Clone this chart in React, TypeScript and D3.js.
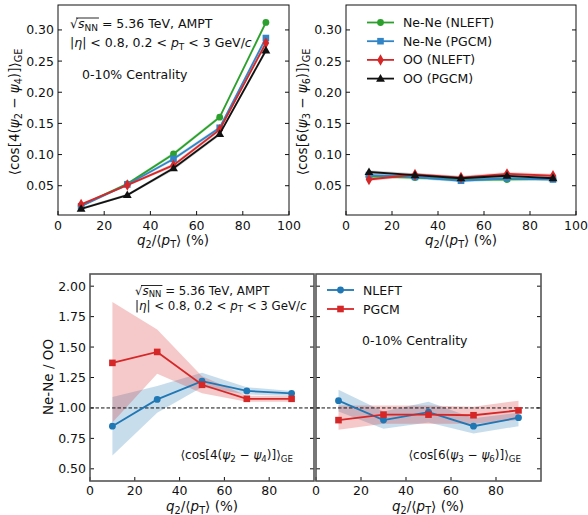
import React, { useRef, useEffect } from 'react';
import * as d3 from 'd3';

// q2/<pT> bins (%)
const qBins = [10, 30, 50, 70, 90];

// <cos[4(psi2 - psi4)]>_GE
const cos4NeNeNleft = [0.018, 0.053, 0.101, 0.160, 0.312];
const cos4NeNePgcm = [0.017, 0.052, 0.093, 0.143, 0.287];
const cos4OONleft = [0.020, 0.051, 0.083, 0.140, 0.279];
const cos4OOPgcm = [0.013, 0.035, 0.078, 0.133, 0.267];
const cos4Err = [0.002, 0.002, 0.003, 0.003, 0.004];

// <cos[6(psi3 - psi6)]>_GE
const cos6NeNeNleft = [0.065, 0.063, 0.060, 0.060, 0.061];
const cos6NeNePgcm = [0.067, 0.064, 0.058, 0.062, 0.060];
const cos6OONleft = [0.060, 0.068, 0.063, 0.069, 0.066];
const cos6OOPgcm = [0.072, 0.067, 0.062, 0.066, 0.062];
const cos6Err = [0.003, 0.003, 0.003, 0.003, 0.003];

// Ne-Ne / OO ratios
const ratio4Nleft = [0.85, 1.07, 1.22, 1.14, 1.12];
const ratio4NleftLo = [0.61, 0.96, 1.17, 1.11, 1.10];
const ratio4NleftHi = [1.09, 1.18, 1.29, 1.17, 1.14];
const ratio4Pgcm = [1.37, 1.46, 1.19, 1.075, 1.075];
const ratio4PgcmLo = [0.88, 1.28, 1.12, 1.05, 1.05];
const ratio4PgcmHi = [1.87, 1.645, 1.26, 1.10, 1.10];

const ratio6Nleft = [1.06, 0.90, 0.965, 0.85, 0.92];
const ratio6NleftLo = [0.97, 0.83, 0.88, 0.79, 0.85];
const ratio6NleftHi = [1.15, 0.97, 1.05, 0.915, 0.96];
const ratio6Pgcm = [0.90, 0.945, 0.945, 0.94, 0.98];
const ratio6PgcmLo = [0.82, 0.87, 0.87, 0.87, 0.90];
const ratio6PgcmHi = [1.02, 1.02, 1.02, 1.01, 1.06];

const topTicksY = [0.05, 0.10, 0.15, 0.20, 0.25, 0.30];
const topTicksX = [0, 20, 40, 60, 80, 100];
const botTicksY = [0.50, 0.75, 1.00, 1.25, 1.50, 1.75, 2.00];
const botTicksX = [0, 20, 40, 60, 80];

const GREEN = '#2ca02c';
const BLUE = '#3185c6';
const RED = '#d62728';
const BLACK = '#111111';
const FONT = 'DejaVu Sans, sans-serif';

type Seg = { t: string; i?: boolean; sub?: boolean; over?: boolean };

const qLabel: Seg[] = [
  { t: 'q', i: true }, { t: '2', sub: true }, { t: '/⟨' }, { t: 'p', i: true },
  { t: 'T', sub: true }, { t: '⟩ (%)' },
];
const sqrtLine: Seg[] = [
  { t: '√', over: true }, { t: 's', i: true, over: true }, { t: 'NN', sub: true, over: true },
  { t: ' = 5.36 TeV, AMPT' },
];
const etaLine: Seg[] = [
  { t: '|' }, { t: 'η', i: true }, { t: '| < 0.8, 0.2 < ' }, { t: 'p', i: true },
  { t: 'T', sub: true }, { t: ' < 3 GeV/' }, { t: 'c', i: true },
];
const cos4Label: Seg[] = [
  { t: '⟨cos[4(' }, { t: 'ψ', i: true }, { t: '2', sub: true }, { t: ' − ' },
  { t: 'ψ', i: true }, { t: '4', sub: true }, { t: ')]⟩' }, { t: 'GE', sub: true },
];
const cos6Label: Seg[] = [
  { t: '⟨cos[6(' }, { t: 'ψ', i: true }, { t: '3', sub: true }, { t: ' − ' },
  { t: 'ψ', i: true }, { t: '6', sub: true }, { t: ')]⟩' }, { t: 'GE', sub: true },
];

function rich(g: any, segs: Seg[], x: number, y: number, size: number, anchor = 'start', rotate = false) {
  const text = g.append('text')
    .attr('x', x).attr('y', y)
    .attr('font-size', size)
    .attr('font-family', FONT)
    .attr('text-anchor', anchor)
    .attr('fill', '#111');
  if (rotate) text.attr('transform', `rotate(-90, ${x}, ${y})`);
  let shifted = false;
  const overNodes: any[] = [];
  segs.forEach(s => {
    const ts = text.append('tspan').text(s.t);
    if (s.i) ts.attr('font-style', 'italic');
    if (s.sub) {
      ts.attr('font-size', size * 0.72);
      if (!shifted) { ts.attr('dy', size * 0.25); shifted = true; }
    } else if (shifted) {
      ts.attr('dy', -size * 0.25); shifted = false;
    }
    if (s.over) overNodes.push(ts.node());
  });
  if (overNodes.length) {
    const b0 = overNodes[0].getBBox();
    const bl = overNodes[overNodes.length - 1].getBBox();
    g.append('line')
      .attr('x1', b0.x + b0.width * 0.75).attr('x2', bl.x + bl.width + 1)
      .attr('y1', b0.y + 2).attr('y2', b0.y + 2)
      .attr('stroke', '#111').attr('stroke-width', 0.9);
  }
  return text;
}

function marker(g: any, shape: string, x: number, y: number, color: string) {
  if (shape === 'circle') {
    g.append('circle').attr('cx', x).attr('cy', y).attr('r', 3.4).attr('fill', color);
  } else if (shape === 'square') {
    g.append('rect').attr('x', x - 3.3).attr('y', y - 3.3).attr('width', 6.6).attr('height', 6.6).attr('fill', color);
  } else if (shape === 'diamond') {
    g.append('path').attr('d', d3.symbol(d3.symbolDiamond, 38)()).attr('transform', `translate(${x},${y})`).attr('fill', color);
  } else {
    g.append('path').attr('d', d3.symbol(d3.symbolTriangle, 34)()).attr('transform', `translate(${x},${y + 0.5})`).attr('fill', color);
  }
}

type Series = { y: number[]; lo: number[]; hi: number[]; color: string; shape: string; label: string };

function drawPanel(svg: any, opts: {
  x0: number; x1: number; y0: number; y1: number;
  xDomain: [number, number]; yDomain: [number, number];
  xTicks: number[]; yTicks: number[]; yFmt: (d: number) => string;
  showYLabels: boolean; series: Series[]; frameColor: string; frameWidth: number;
  bandOpacity: number; dashed?: boolean; xTickOffset: number;
}) {
  const xs = d3.scaleLinear().domain(opts.xDomain).range([opts.x0, opts.x1]);
  const ys = d3.scaleLinear().domain(opts.yDomain).range([opts.y1, opts.y0]);
  const g = svg.append('g');
  const clipId = `clip${Math.round(opts.x0)}_${Math.round(opts.y0)}`;
  g.append('clipPath').attr('id', clipId).append('rect')
    .attr('x', opts.x0).attr('y', opts.y0).attr('width', opts.x1 - opts.x0).attr('height', opts.y1 - opts.y0);
  const plot = g.append('g').attr('clip-path', `url(#${clipId})`);

  opts.series.forEach(s => {
    const area = d3.area<number>()
      .x((_, i) => xs(qBins[i]))
      .y0((_, i) => ys(s.lo[i]))
      .y1((_, i) => ys(s.hi[i]));
    plot.append('path').attr('d', area(s.y)).attr('fill', s.color).attr('opacity', opts.bandOpacity);
  });
  if (opts.dashed) {
    plot.append('line').attr('x1', opts.x0).attr('x2', opts.x1)
      .attr('y1', ys(1)).attr('y2', ys(1))
      .attr('stroke', '#111').attr('stroke-width', 1).attr('stroke-dasharray', '3.5,2');
  }
  opts.series.forEach(s => {
    const line = d3.line<number>().x((_, i) => xs(qBins[i])).y(d => ys(d));
    plot.append('path').attr('d', line(s.y)).attr('fill', 'none').attr('stroke', s.color).attr('stroke-width', 1.8);
    s.y.forEach((v, i) => marker(plot, s.shape, xs(qBins[i]), ys(v), s.color));
  });

  // ticks (inward) and labels
  const tl = 4;
  opts.yTicks.forEach(t => {
    const y = ys(t);
    g.append('line').attr('x1', opts.x0).attr('x2', opts.x0 + tl).attr('y1', y).attr('y2', y).attr('stroke', '#111');
    g.append('line').attr('x1', opts.x1).attr('x2', opts.x1 - tl).attr('y1', y).attr('y2', y).attr('stroke', '#111');
    if (opts.showYLabels) {
      g.append('text').attr('x', opts.x0 - 4).attr('y', y + 4.5).attr('text-anchor', 'end')
        .attr('font-size', 12.5).attr('font-family', FONT).attr('fill', '#111').text(opts.yFmt(t));
    }
  });
  opts.xTicks.forEach(t => {
    const x = xs(t);
    g.append('line').attr('x1', x).attr('x2', x).attr('y1', opts.y1).attr('y2', opts.y1 - tl).attr('stroke', '#111');
    g.append('text').attr('x', x).attr('y', opts.y1 + opts.xTickOffset).attr('text-anchor', 'middle')
      .attr('font-size', 12.5).attr('font-family', FONT).attr('fill', '#111').text(String(t));
  });
  g.append('rect').attr('x', opts.x0).attr('y', opts.y0).attr('width', opts.x1 - opts.x0).attr('height', opts.y1 - opts.y0)
    .attr('fill', 'none').attr('stroke', opts.frameColor).attr('stroke-width', opts.frameWidth);
  return g;
}

function legend(svg: any, items: Series[], x: number, y: number, dy: number) {
  items.forEach((s, i) => {
    const yy = y + i * dy;
    svg.append('line').attr('x1', x).attr('x2', x + 27).attr('y1', yy).attr('y2', yy)
      .attr('stroke', s.color).attr('stroke-width', 1.8);
    marker(svg, s.shape, x + 13.5, yy, s.color);
    svg.append('text').attr('x', x + 36).attr('y', yy + 4.5).attr('font-size', 12.5)
      .attr('font-family', FONT).attr('fill', '#111').text(s.label);
  });
}

const band = (v: number[], e: number[], sign: number) => v.map((d, i) => d + sign * e[i]);

const App = () => {
  const svgRef = useRef<SVGSVGElement>(null);

  useEffect(() => {
    const svg = d3.select(svgRef.current);
    svg.selectAll('*').remove();
    svg.append('rect').attr('width', 588).attr('height', 515).attr('fill', '#fff');

    const mk = (y: number[], e: number[], color: string, shape: string, label: string): Series =>
      ({ y, lo: band(y, e, -1), hi: band(y, e, 1), color, shape, label });

    const top4 = [
      mk(cos4NeNeNleft, cos4Err, GREEN, 'circle', 'Ne-Ne (NLEFT)'),
      mk(cos4NeNePgcm, cos4Err, BLUE, 'square', 'Ne-Ne (PGCM)'),
      mk(cos4OONleft, cos4Err, RED, 'diamond', 'OO (NLEFT)'),
      mk(cos4OOPgcm, cos4Err, BLACK, 'triangle', 'OO (PGCM)'),
    ];
    const top6 = [
      mk(cos6NeNeNleft, cos6Err, GREEN, 'circle', 'Ne-Ne (NLEFT)'),
      mk(cos6NeNePgcm, cos6Err, BLUE, 'square', 'Ne-Ne (PGCM)'),
      mk(cos6OONleft, cos6Err, RED, 'diamond', 'OO (NLEFT)'),
      mk(cos6OOPgcm, cos6Err, BLACK, 'triangle', 'OO (PGCM)'),
    ];
    const fmt2 = (d: number) => d.toFixed(2);
    const topCommon = {
      y0: 5, y1: 215, xDomain: [0, 100] as [number, number], yDomain: [0.003, 0.340] as [number, number],
      xTicks: topTicksX, yTicks: topTicksY, yFmt: fmt2, showYLabels: true,
      frameColor: '#111', frameWidth: 1, bandOpacity: 0.2, xTickOffset: 15,
    };
    drawPanel(svg, { ...topCommon, x0: 58, x1: 289, series: top4 });
    drawPanel(svg, { ...topCommon, x0: 346, x1: 576, series: top6 });

    const botCommon = {
      y0: 274, y1: 481, xDomain: [0, 100] as [number, number], yDomain: [0.40, 2.10] as [number, number],
      xTicks: botTicksX, yTicks: botTicksY, yFmt: fmt2,
      frameColor: '#555', frameWidth: 1.6, bandOpacity: 0.25, dashed: true, xTickOffset: 13.5,
    };
    const nl4 = { y: ratio4Nleft, lo: ratio4NleftLo, hi: ratio4NleftHi, color: '#1f77b4', shape: 'circle', label: 'NLEFT' };
    const pg4 = { y: ratio4Pgcm, lo: ratio4PgcmLo, hi: ratio4PgcmHi, color: RED, shape: 'square', label: 'PGCM' };
    const nl6 = { y: ratio6Nleft, lo: ratio6NleftLo, hi: ratio6NleftHi, color: '#1f77b4', shape: 'circle', label: 'NLEFT' };
    const pg6 = { y: ratio6Pgcm, lo: ratio6PgcmLo, hi: ratio6PgcmHi, color: RED, shape: 'square', label: 'PGCM' };
    drawPanel(svg, { ...botCommon, x0: 90, x1: 314, showYLabels: true, series: [nl4, pg4] });
    drawPanel(svg, { ...botCommon, x0: 316, x1: 541, showYLabels: false, series: [nl6, pg6] });

    // axis labels
    rich(svg, qLabel, 173, 245, 13.5, 'middle');
    rich(svg, qLabel, 461, 245, 13.5, 'middle');
    rich(svg, qLabel, 202, 510.5, 13.5, 'middle');
    rich(svg, qLabel, 428, 510.5, 13.5, 'middle');
    rich(svg, cos4Label, 19, 112, 13.5, 'middle', true);
    rich(svg, cos6Label, 307, 112, 13.5, 'middle', true);
    svg.append('text').attr('x', 53).attr('y', 377).attr('font-size', 13.5).attr('font-family', FONT)
      .attr('text-anchor', 'middle').attr('fill', '#111')
      .attr('transform', 'rotate(-90, 53, 377)').text('Ne-Ne / OO');

    // annotations top-left
    rich(svg, sqrtLine, 70, 28, 12.5);
    rich(svg, etaLine, 70, 47, 12.5);
    svg.append('text').attr('x', 82).attr('y', 79).attr('font-size', 12.5).attr('font-family', FONT)
      .attr('fill', '#111').text('0-10% Centrality');

    // legend top-right
    legend(svg, top6, 367, 22.5, 18.7);

    // bottom annotations
    rich(svg, sqrtLine, 135, 294.5, 11.8);
    rich(svg, etaLine, 135, 309.5, 11.8);
    rich(svg, cos4Label, 293, 459, 12, 'end');
    rich(svg, cos6Label, 521, 459, 12, 'end');
    legend(svg, [nl6, pg6], 327, 290, 19);
    svg.append('text').attr('x', 362).attr('y', 345).attr('font-size', 12.5).attr('font-family', FONT)
      .attr('fill', '#111').text('0-10% Centrality');
  }, []);

  return (
    <svg ref={svgRef} width={588} height={515}
      style={{ position: 'absolute', left: 0, top: 0, display: 'block' }} />
  );
};

export default App;
